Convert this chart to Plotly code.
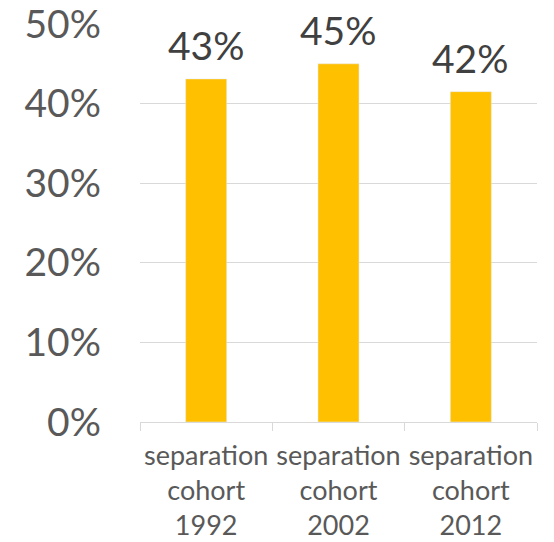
import plotly.graph_objects as go

categories = ["separation<br>cohort<br>1992", "separation<br>cohort<br>2002", "separation<br>cohort<br>2012"]
values = [0.431, 0.450, 0.415]
labels = ["43%", "45%", "42%"]
y_ticks = [0, 0.1, 0.2, 0.3, 0.4, 0.5]

FONT = "Lato"

fig = go.Figure(go.Bar(
    x=categories, y=values,
    marker_color="#FFC000", width=0.31,
))
for c, v, t in zip(categories, values, labels):
    fig.add_annotation(x=c, y=v, text=t, showarrow=False, yanchor="bottom", yshift=9,
                       font=dict(size=39, color="#404040", family=FONT))
fig.update_layout(
    width=554, height=542, margin=dict(l=140, r=17, t=24, b=120),
    plot_bgcolor="white", paper_bgcolor="white", showlegend=False,
    font=dict(family=FONT),
)
fig.update_yaxes(range=[0, 0.5], tickvals=y_ticks, tickformat=".0%",
                 showgrid=True, gridcolor="#d9d9d9", gridwidth=1.3,
                 zeroline=False, showline=False, automargin=False,
                 ticklabeloverflow="allow",
                 tickfont=dict(size=39, color="#595959"), ticklabelstandoff=38)
fig.update_xaxes(showline=True, linecolor="#d9d9d9", linewidth=1.3, automargin=False,
                 ticks="outside", tickson="boundaries", ticklen=8, tickcolor="#d9d9d9",
                 tickwidth=1.3, tickangle=0, ticklabeloverflow="allow",
                 tickfont=dict(size=27, color="#595959"), ticklabelstandoff=9)
fig.write_html("out.html", config={"displayModeBar": False},
               post_script="document.body.style.margin='0';document.body.style.overflow='hidden';")
